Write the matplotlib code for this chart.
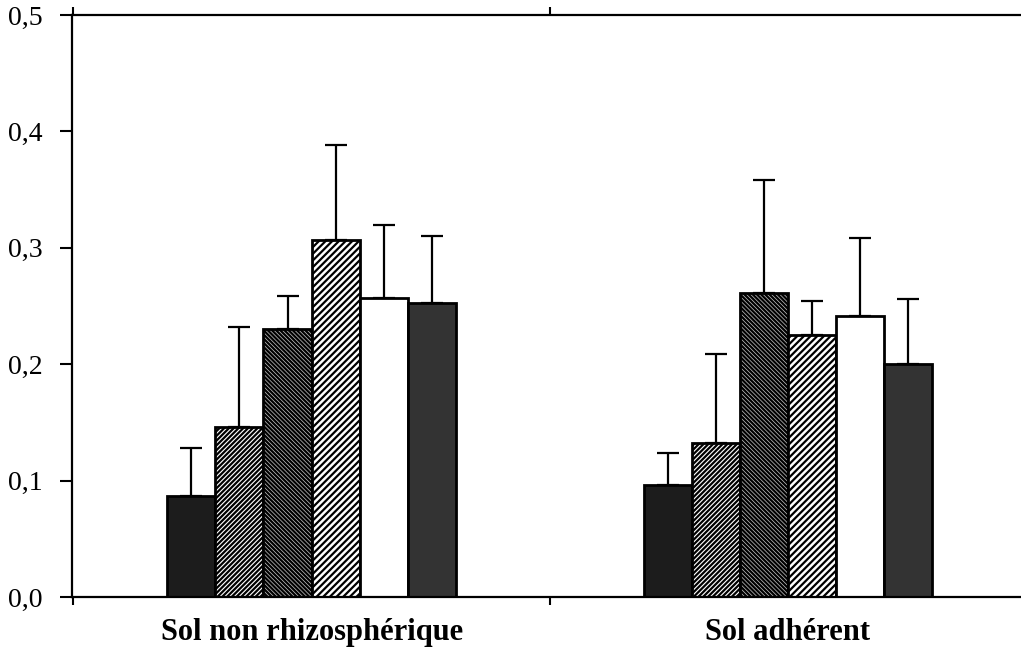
import numpy as np
import matplotlib
matplotlib.use('Agg')
import matplotlib.pyplot as plt
from matplotlib.ticker import FixedLocator

plt.rcParams['font.family'] = ['Liberation Serif', 'DejaVu Serif']
plt.rcParams['hatch.linewidth'] = 1.6

# data
groups = ['Sol non rhizosphérique', 'Sol adhérent']
means_nr = [0.087, 0.146, 0.230, 0.307, 0.257, 0.253]
sd_nr = [0.041, 0.086, 0.029, 0.081, 0.063, 0.057]
means_adh = [0.096, 0.132, 0.261, 0.225, 0.241, 0.200]
sd_adh = [0.028, 0.077, 0.097, 0.029, 0.067, 0.056]
y_ticks = [0.0, 0.1, 0.2, 0.3, 0.4, 0.5]
y_labels = ['0,0', '0,1', '0,2', '0,3', '0,4', '0,5']

# bar styles (facecolor, hatch)
styles = [('#1c1c1c', ''), ('white', '///////'), ('#c4c4c4', '\\\\\\\\\\\\\\\\'),
          ('white', '/////'), ('white', ''), ('#333333', '')]

fig = plt.figure(figsize=(10.21, 6.55), dpi=100)
ax = fig.add_axes([72 / 1021, 58 / 655, 954 / 1021, 582 / 655])

width = 0.101
x = np.arange(len(groups))
means = np.array([means_nr, means_adh])
sds = np.array([sd_nr, sd_adh])

for i, (fc, hatch) in enumerate(styles):
    pos = x + (i - 2.5) * width
    ax.bar(pos, means[:, i], width, color=fc, edgecolor='black', hatch=hatch,
           linewidth=2, zorder=2)
    ax.errorbar(pos, means[:, i], yerr=[np.zeros(2), sds[:, i]], fmt='none',
                ecolor='black', elinewidth=1.6, capsize=8, capthick=1.6, zorder=1)

ax.set_xlim(-0.503, 1.5)
ax.set_ylim(0, 0.5)
ax.set_yticks(y_ticks)
ax.set_yticklabels(y_labels, fontsize=20)
ax.set_xticks(x)
ax.set_xticklabels(groups, fontsize=22, fontweight='bold')
ax.xaxis.set_minor_locator(FixedLocator([-0.5, 0.5]))
ax.tick_params(axis='x', which='major', length=0, pad=15)
ax.tick_params(axis='x', which='minor', length=6, width=1.5, direction='out',
               top=True)
ax.tick_params(axis='y', length=9, width=1.5, direction='out', pad=12)

ax.spines['right'].set_visible(False)
for s in ['left', 'top', 'bottom']:
    ax.spines[s].set_linewidth(1.6)

fig.savefig('out.png', dpi=100)
